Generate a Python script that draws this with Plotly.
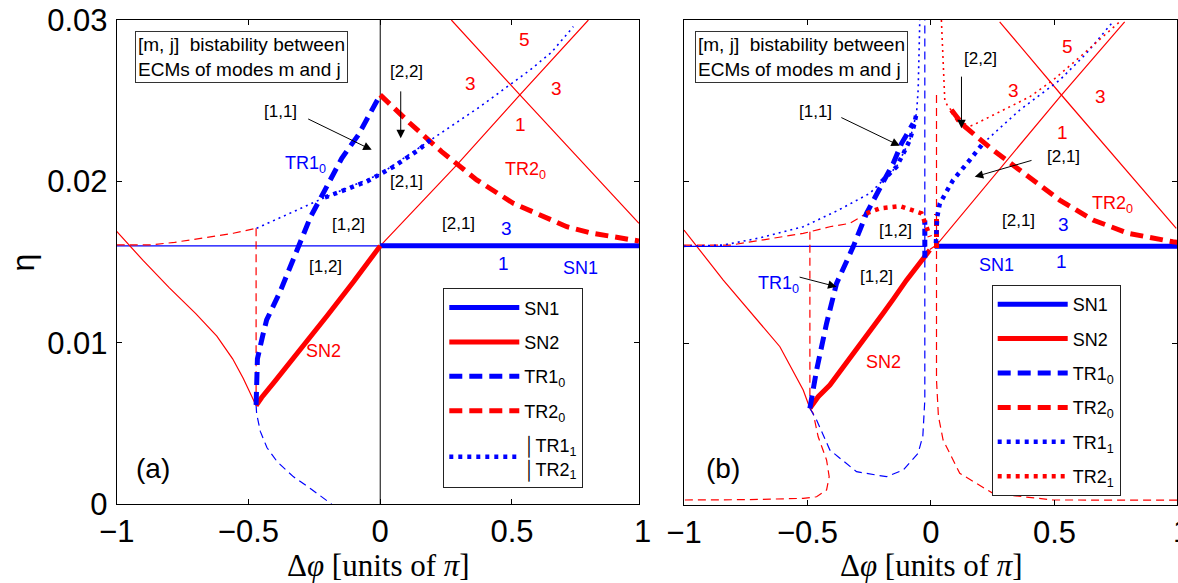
import plotly.graph_objects as go

W, H = 1178, 583
BLUE, RED, BLACK = "#0000ff", "#ff0000", "#000000"
FONT = "Liberation Sans"
SERIF = "Liberation Serif"

# ---------------- panel (a) data ----------------
a_sn1_thin_x = [-1.0, 0.0]
a_sn1_thin_y = [0.016, 0.016]
a_sn1_x = [0.0, 0.982]
a_sn1_y = [0.016, 0.016]
a_sn2_x = [-0.471, -0.45, -0.40, -0.30, -0.20, -0.10, -0.03, 0.0]
a_sn2_y = [0.0061, 0.0066, 0.0076, 0.0096, 0.0117, 0.0138, 0.0153, 0.0160]
a_sn2_thin_x = [-1.0, -0.9, -0.8, -0.7, -0.62, -0.56, -0.52, -0.49, -0.471]
a_sn2_thin_y = [0.0169, 0.0151, 0.0134, 0.0118, 0.0104, 0.0090, 0.0078, 0.0068, 0.0061]
a_cross1_x = [0.0, 0.29, 0.53, 0.79]
a_cross1_y = [0.016, 0.0210, 0.02536, 0.0300]
a_cross2_x = [0.27, 0.53, 0.982]
a_cross2_y = [0.0300, 0.02536, 0.0174]
a_tr10_x = [-0.471, -0.470, -0.466, -0.445, -0.431, -0.380, -0.317, -0.264, -0.2095, -0.146, -0.083, -0.020, 0.0]
a_tr10_y = [0.00614, 0.0075, 0.0090, 0.0105, 0.01141, 0.01316, 0.01564, 0.01781, 0.01947, 0.02143, 0.02288, 0.02484, 0.02536]
a_tr20_x = [0.0, 0.113, 0.233, 0.366, 0.505, 0.708, 0.8, 0.9, 0.982]
a_tr20_y = [0.02536, 0.0236, 0.02184, 0.02009, 0.01864, 0.01719, 0.0168, 0.0165, 0.0163]
a_tr11_x = [-0.21, -0.15, -0.10, -0.05, 0.0, 0.05, 0.10, 0.15, 0.19]
a_tr11_y = [0.0190, 0.01935, 0.0197, 0.0200, 0.02045, 0.0209, 0.02145, 0.0220, 0.02257]
a_tr11_thin_x = [-0.469, -0.34, -0.21, 0.0, 0.19, 0.379, 0.5685, 0.65, 0.733]
a_tr11_thin_y = [0.01709, 0.01805, 0.0190, 0.02045, 0.02257, 0.02463, 0.0269, 0.0280, 0.02959]
a_tr20_thin_x = [-1.0, -0.87, -0.78, -0.684, -0.5575, -0.471]
a_tr20_thin_y = [0.01606, 0.01606, 0.01622, 0.01647, 0.01678, 0.01709]
a_vert_red_x = [-0.471, -0.471]
a_vert_red_y = [0.01709, 0.00614]
a_tr10_thin_x = [-0.471, -0.469, -0.455, -0.43, -0.39, -0.33, -0.26, -0.185]
a_tr10_thin_y = [0.00614, 0.0056, 0.0045, 0.0035, 0.0026, 0.0017, 0.0009, 0.0]
a_zero_x = [0.0, 0.0]
a_zero_y = [0.0, 0.03]

# ---------------- panel (b) data ----------------
b_sn1_thin_x = [-1.0, -0.02]
b_sn1_thin_y = [0.016, 0.016]
b_sn1_x = [0.015, 1.0]
b_sn1_y = [0.016, 0.016]
b_sn2_x = [-0.4903, -0.4567, -0.4094, -0.3014, -0.1938, -0.1533, -0.0991, -0.0049]
b_sn2_y = [0.00598, 0.0067, 0.00742, 0.00959, 0.01186, 0.01272, 0.01391, 0.01577]
b_sn2_thin_x = [-1.0, -0.841, -0.6117, -0.5174, -0.4903]
b_sn2_thin_y = [0.01701, 0.01391, 0.00979, 0.00711, 0.00598]
b_cross1_x = [-0.005, 0.0223, 0.528, 0.784]
b_cross1_y = [0.0158, 0.01608, 0.02536, 0.02989]
b_cross2_x = [0.278, 0.528, 0.993]
b_cross2_y = [0.02989, 0.02536, 0.01711]
b_tr10_x = [-0.4903, -0.485, -0.4632, -0.4227, -0.3823, -0.3151, -0.2609, -0.2, -0.153, -0.119, -0.0724]
b_tr10_y = [0.00598, 0.0065, 0.00835, 0.01124, 0.01371, 0.01597, 0.01804, 0.0198, 0.02113, 0.02237, 0.0236]
b_tr10_stub_x = [-0.025, -0.025]
b_tr10_stub_y = [0.0153, 0.0176]
b_tr10_thin_x = [-0.4903, -0.4632, -0.4094, -0.3014, -0.18, -0.1129, -0.0522, -0.033, -0.025, -0.025]
b_tr10_thin_y = [0.00598, 0.00526, 0.0034, 0.00206, 0.00175, 0.00216, 0.0032, 0.00427, 0.0065, 0.030]
b_tr20_x = [0.0829, 0.1299, 0.2512, 0.3863, 0.521, 0.6557, 0.80, 0.9794, 1.0]
b_tr20_y = [0.02443, 0.0235, 0.02195, 0.02041, 0.01886, 0.01763, 0.0168, 0.01628, 0.01625]
b_tr20_stub_x = [0.0223, 0.0223]
b_tr20_stub_y = [0.0159, 0.0180]
b_tr20_thin_left_x = [-1.0, -0.81, -0.5174, -0.4094, -0.3285, -0.261]
b_tr20_thin_left_y = [0.01608, 0.01608, 0.0168, 0.01721, 0.01742, 0.01804]
b_vert_red_x = [-0.4903, -0.4903]
b_vert_red_y = [0.0169, 0.00598]
b_tr20_thin_low_x = [-0.4903, -0.477, -0.4567, -0.4227, -0.4122, -0.4227, -0.4632, -0.5174, -0.75, -1.0]
b_tr20_thin_low_y = [0.00598, 0.00567, 0.00422, 0.00278, 0.00175, 0.00093, 0.00051, 0.00041, 0.00033, 0.00031]
b_tr20_thin_right_x = [0.0223, 0.0223, 0.03, 0.049, 0.1165, 0.2512, 0.494, 0.75, 1.0]
b_tr20_thin_right_y = [0.02536, 0.00773, 0.0055, 0.00402, 0.00196, 0.00072, 0.00031, 0.0003, 0.0003]
b_tr11_thin_left_x = [-1.0, -0.841, -0.70, -0.5174, -0.38, -0.2476, -0.1396, -0.0858, -0.0587, -0.052, -0.0453]
b_tr11_thin_left_y = [0.016, 0.01608, 0.0165, 0.01721, 0.0182, 0.01928, 0.02092, 0.02257, 0.02422, 0.02566, 0.0300]
b_tr11_left_x = [-0.20, -0.16, -0.1396, -0.11, -0.0858, -0.07, -0.0587]
b_tr11_left_y = [0.0200, 0.0206, 0.02092, 0.0218, 0.02257, 0.0234, 0.02422]
b_tr11_right_x = [0.02, 0.025, 0.0356, 0.0894, 0.157, 0.2107]
b_tr11_right_y = [0.0162, 0.0178, 0.01865, 0.0201, 0.02134, 0.02237]
b_tr11_thin_right_x = [0.2107, 0.3592, 0.521, 0.629, 0.7367]
b_tr11_thin_right_y = [0.02237, 0.02443, 0.02628, 0.02793, 0.02989]
b_tr21_arc_x = [-0.261, -0.207, -0.126, -0.0384, -0.018, -0.0049]
b_tr21_arc_y = [0.01804, 0.01835, 0.01849, 0.01804, 0.01721, 0.01659]
b_tr21_top_x = [0.0421, 0.050, 0.0558, 0.07, 0.0829]
b_tr21_top_y = [0.030, 0.0265, 0.02505, 0.0246, 0.02443]
b_tr21_mid_x = [0.0829, 0.11, 0.13, 0.16]
b_tr21_mid_y = [0.02443, 0.0238, 0.0235, 0.02345]
b_tr21_up_x = [0.16, 0.1703, 0.265, 0.3997, 0.494, 0.5886, 0.7638]
b_tr21_up_y = [0.02345, 0.0235, 0.02422, 0.02525, 0.02628, 0.02752, 0.02989]

# tick labels
y_ticks = [0, 0.01, 0.02, 0.03]
y_ticktext = ["0", "0.01", "0.02", "0.03"]
x_ticks = [-1, -0.5, 0, 0.5, 1]
x_ticktext = ["\u22121", "\u22120.5", "0", "0.5", "1"]

THICK, THIN = 5, 1.2
TDOT_W, tDOT_W = 4.5, 1.6
THICK_DASH, THIN_DASH = "13px,7px", "8px,5px"
THICK_DOT, THIN_DOT = "4px,5px", "2px,4px"

fig = go.Figure()


def add(x, y, color, width, dash, panel, name=None, legend=None, rank=None):
    xa, ya = ("x", "y") if panel == "a" else ("x2", "y2")
    kw = dict(showlegend=False)
    if name is not None:
        kw = dict(showlegend=True, name=name, legend=legend, legendrank=rank,
                  legendgroup=legend + name)
    fig.add_trace(go.Scatter(x=x, y=y, mode="lines", xaxis=xa, yaxis=ya,
                             line=dict(color=color, width=width, dash=dash),
                             hoverinfo="skip", **kw))


# panel (a) thin curves
add(a_zero_x, a_zero_y, BLACK, 1, "solid", "a")
add(a_sn1_thin_x, a_sn1_thin_y, BLUE, THIN, "solid", "a")
add(a_sn2_thin_x, a_sn2_thin_y, RED, THIN, "solid", "a")
add(a_cross1_x, a_cross1_y, RED, THIN, "solid", "a")
add(a_cross2_x, a_cross2_y, RED, THIN, "solid", "a")
add(a_tr20_thin_x, a_tr20_thin_y, RED, THIN, THIN_DASH, "a")
add(a_vert_red_x, a_vert_red_y, RED, THIN, THIN_DASH, "a")
add(a_tr10_thin_x, a_tr10_thin_y, BLUE, THIN, THIN_DASH, "a")
add(a_tr11_thin_x, a_tr11_thin_y, BLUE, tDOT_W, THIN_DOT, "a")
# panel (a) thick curves
add(a_sn1_x, a_sn1_y, BLUE, THICK, "solid", "a", "SN1", "legend", 1)
add(a_sn2_x, a_sn2_y, RED, THICK, "solid", "a", "SN2", "legend", 2)
add(a_tr10_x, a_tr10_y, BLUE, THICK, THICK_DASH, "a", "TR1<sub>0</sub>", "legend", 3)
add(a_tr20_x, a_tr20_y, RED, THICK, THICK_DASH, "a", "TR2<sub>0</sub>", "legend", 4)
add(a_tr11_x, a_tr11_y, BLUE, TDOT_W, THICK_DOT, "a",
    "\u2502TR1<sub>1</sub><br>\u2502TR2<sub>1</sub>", "legend", 5)

# panel (b) thin curves
add(b_sn1_thin_x, b_sn1_thin_y, BLUE, THIN, "solid", "b")
add(b_sn2_thin_x, b_sn2_thin_y, RED, THIN, "solid", "b")
add(b_cross1_x, b_cross1_y, RED, THIN, "solid", "b")
add(b_cross2_x, b_cross2_y, RED, THIN, "solid", "b")
add(b_tr20_thin_left_x, b_tr20_thin_left_y, RED, THIN, THIN_DASH, "b")
add(b_vert_red_x, b_vert_red_y, RED, THIN, THIN_DASH, "b")
add(b_tr20_thin_low_x, b_tr20_thin_low_y, RED, THIN, THIN_DASH, "b")
add(b_tr20_thin_right_x, b_tr20_thin_right_y, RED, THIN, THIN_DASH, "b")
add(b_tr10_thin_x, b_tr10_thin_y, BLUE, THIN, THIN_DASH, "b")
add(b_tr11_thin_left_x, b_tr11_thin_left_y, BLUE, tDOT_W, THIN_DOT, "b")
add(b_tr11_thin_right_x, b_tr11_thin_right_y, BLUE, tDOT_W, THIN_DOT, "b")
add(b_tr21_top_x, b_tr21_top_y, RED, tDOT_W, THIN_DOT, "b")
add(b_tr21_up_x, b_tr21_up_y, RED, tDOT_W, THIN_DOT, "b")
# panel (b) thick curves
add(b_sn1_x, b_sn1_y, BLUE, THICK, "solid", "b", "SN1", "legend2", 1)
add(b_sn2_x, b_sn2_y, RED, THICK, "solid", "b", "SN2", "legend2", 2)
add(b_tr10_x, b_tr10_y, BLUE, THICK, THICK_DASH, "b", "TR1<sub>0</sub>", "legend2", 3)
add(b_tr10_stub_x, b_tr10_stub_y, BLUE, THICK, "7px,4px", "b")
add(b_tr20_x, b_tr20_y, RED, THICK, THICK_DASH, "b", "TR2<sub>0</sub>", "legend2", 4)
add(b_tr20_stub_x, b_tr20_stub_y, RED, THICK, "7px,4px", "b")
add(b_tr11_left_x, b_tr11_left_y, BLUE, TDOT_W, THICK_DOT, "b", "TR1<sub>1</sub>", "legend2", 5)
add(b_tr11_right_x, b_tr11_right_y, BLUE, TDOT_W, THICK_DOT, "b")
add(b_tr21_arc_x, b_tr21_arc_y, RED, TDOT_W, THICK_DOT, "b", "TR2<sub>1</sub>", "legend2", 6)
add(b_tr21_mid_x, b_tr21_mid_y, RED, TDOT_W, THICK_DOT, "b")


def T(px, py, text, size=17, color=BLACK, family=FONT, **kw):
    d = dict(x=px / W, y=1 - py / H, xref="paper", yref="paper", text=text,
             showarrow=False, font=dict(family=family, size=size, color=color),
             xanchor="center", yanchor="middle")
    d.update(kw)
    return d


def ARROW(panel, tail, tip):
    xr, yr = ("x", "y") if panel == "a" else ("x2", "y2")
    return dict(x=tip[0], y=tip[1], ax=tail[0], ay=tail[1], xref=xr, yref=yr,
                axref=xr, ayref=yr, text="", showarrow=True, arrowhead=2,
                arrowsize=1.7, arrowwidth=1, arrowcolor=BLACK, standoff=0)


BOX = "[m, j]\u00a0 bistability between<br>ECMs of modes m and j"
XTITLE = "\u0394<i>\u03c6</i> [units of <i>\u03c0</i>]"
ann = [
    # panel a
    T(241.7, 57.2, BOX, 19, bordercolor="#333", borderwidth=1, borderpad=2,
      bgcolor="white", align="left"),
    T(280, 111.7, "[1,1]"),
    T(305, 165, "TR1<sub>0</sub>", 18, BLUE),
    T(406.7, 71, "[2,2]"),
    T(406.7, 181.7, "[2,1]"),
    T(348.3, 225, "[1,2]"),
    T(325, 266.7, "[1,2]"),
    T(458.3, 223.3, "[2,1]"),
    T(524, 39.3, "5", 19, RED), T(470.7, 83.3, "3", 19, RED),
    T(556.7, 88.3, "3", 19, RED), T(520, 125, "1", 19, RED),
    T(525, 170, "TR2<sub>0</sub>", 18, RED),
    T(506, 228.3, "3", 19, BLUE), T(503.3, 263.3, "1", 19, BLUE),
    T(580, 268.3, "SN1", 18, BLUE),
    T(323.3, 350.8, "SN2", 18, RED),
    T(152.5, 468.3, "(a)", 28),
    T(378.5, 565, XTITLE, 31, family=SERIF),
    T(22.5, 263, "\u03b7", 32, textangle=-90),
    T(642, 531, "1", 31),
    ARROW("a", (-0.279, 0.02391), (-0.0323, 0.02195)),
    ARROW("a", (0.0778, 0.02567), (0.0778, 0.02267)),
    # panel b
    T(801.7, 56.7, BOX, 19, bordercolor="#333", borderwidth=1, borderpad=2,
      bgcolor="white", align="left"),
    T(815.7, 111.7, "[1,1]"),
    T(895.7, 230, "[1,2]"),
    T(778, 284, "TR1<sub>0</sub>", 18, BLUE),
    T(876.7, 276.7, "[1,2]"),
    T(980, 58.3, "[2,2]"),
    T(1063.3, 156.7, "[2,1]"),
    T(1018.3, 220, "[2,1]"),
    T(883.3, 361.7, "SN2", 18, RED),
    T(723.3, 468.3, "(b)", 28),
    T(1067.3, 46.7, "5", 19, RED), T(1013.3, 90, "3", 19, RED),
    T(1100, 96.7, "3", 19, RED), T(1062.7, 132.7, "1", 19, RED),
    T(1112, 204, "TR2<sub>0</sub>", 18, RED),
    T(1063.3, 225, "3", 19, BLUE), T(1061.7, 261.7, "1", 19, BLUE),
    T(996.7, 265, "SN1", 18, BLUE),
    T(931, 565, XTITLE, 31, family=SERIF),
    T(1181, 531, "1", 31),
    ARROW("b", (-0.369, 0.02401), (-0.1262, 0.02222)),
    ARROW("b", (-0.538, 0.01412), (-0.3823, 0.0135)),
    ARROW("b", (0.1234, 0.02659), (0.1234, 0.0233)),
    ARROW("b", (0.413, 0.02134), (0.1772, 0.0203)),
]

axis_common = dict(showline=True, linecolor=BLACK, linewidth=1, mirror="ticks",
                   ticks="inside", ticklen=5, tickcolor=BLACK, showgrid=False,
                   zeroline=False, automargin=False,
                   tickfont=dict(family=FONT, size=31, color=BLACK))

legend_common = dict(xanchor="left", yanchor="top", bordercolor="#222", borderwidth=1,
                     bgcolor="white", font=dict(family=FONT, size=18, color=BLACK),
                     itemwidth=70, traceorder="grouped", tracegroupgap=8)

fig.update_layout(
    width=W, height=H, autosize=False,
    margin=dict(l=0, r=0, t=0, b=0, pad=0, autoexpand=False),
    paper_bgcolor="white", plot_bgcolor="white",
    xaxis=dict(domain=[116.7 / W, 639 / W], range=[-1, 0.982], anchor="y",
               tickvals=x_ticks, ticktext=x_ticktext, ticklabelstandoff=0, **axis_common),
    yaxis=dict(domain=[1 - 504 / H, 1 - 20 / H], range=[0, 0.03], anchor="x",
               tickvals=y_ticks, ticktext=y_ticktext, ticklabelstandoff=2, **axis_common),
    xaxis2=dict(domain=[684 / W, 1177 / W], range=[-1, 0.996], anchor="y2",
                tickvals=x_ticks, ticktext=x_ticktext, ticklabelstandoff=0, **axis_common),
    yaxis2=dict(domain=[1 - 505 / H, 1 - 20 / H], range=[0, 0.03], anchor="x2",
                tickvals=y_ticks, showticklabels=False, **axis_common),
    legend=dict(x=443.3 / W, y=1 - 288.3 / H, **legend_common),
    legend2=dict(x=991.7 / W, y=1 - 285 / H, **legend_common),
    annotations=ann,
    showlegend=True,
)

fig.write_html("out.html")
